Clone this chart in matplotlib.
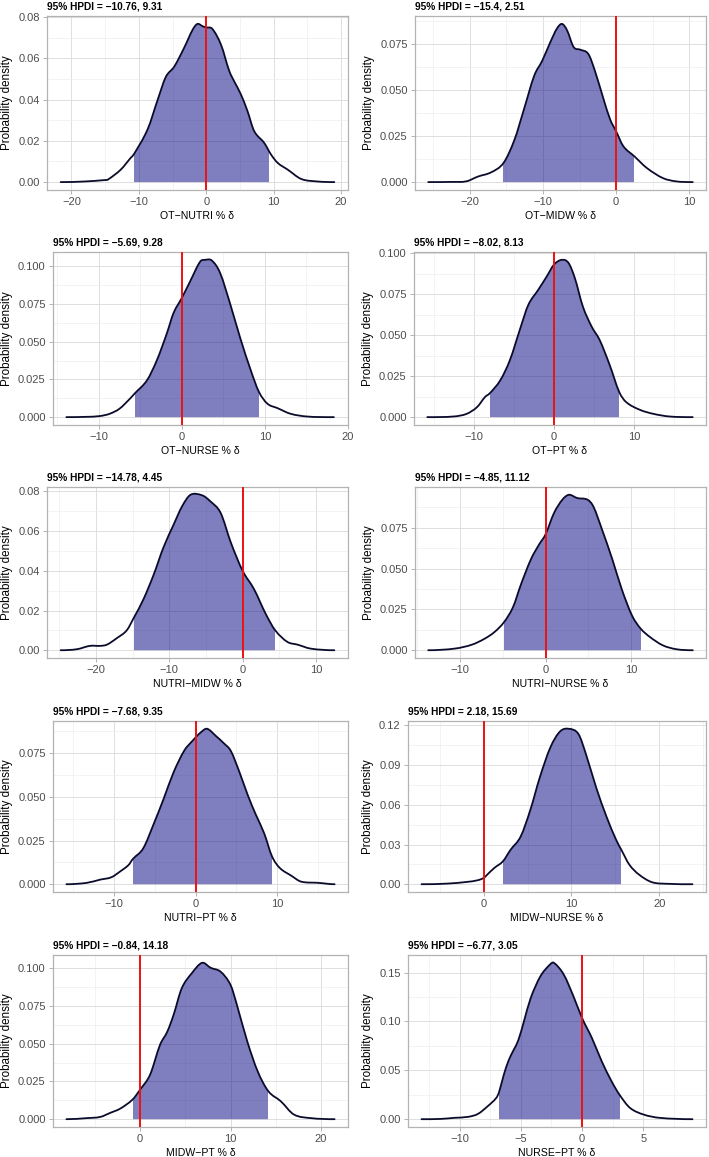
import numpy as np
import matplotlib
matplotlib.use("Agg")
import matplotlib.pyplot as plt
from matplotlib.patches import Rectangle, PathPatch
from matplotlib.path import Path

plt.rcParams['font.family'] = ['Liberation Sans', 'DejaVu Sans']

W, H = 709, 1157

# ---------------- data ----------------
xlabels = ["OT−NUTRI % δ", "OT−MIDW % δ", "OT−NURSE % δ", "OT−PT % δ",
           "NUTRI−MIDW % δ", "NUTRI−NURSE % δ", "NUTRI−PT % δ", "MIDW−NURSE % δ",
           "MIDW−PT % δ", "NURSE−PT % δ"]
hpdi_lo = [-10.76, -15.4, -5.69, -8.02, -14.78, -4.85, -7.68, 2.18, -0.84, -6.77]
hpdi_hi = [9.31, 2.51, 9.28, 8.13, 4.45, 11.12, 9.35, 15.69, 14.18, 3.05]

x1 = [-21.6, -18, -15, -14.6, -12.7, -11.2, -10.76, -8.7, -7.2, -6.0, -4.75, -3.3, -2.0, -1.3, -0.5, 0.0, 0.9,
      2.2, 3.4, 4.2, 5.1, 6.1, 7.1, 8.6, 9.6, 10.6, 12.1, 14.1, 16.5, 19.0]
y1 = [0, 0.0003, 0.001, 0.0012, 0.006, 0.0118, 0.0134, 0.0256, 0.040, 0.051, 0.056, 0.065, 0.074, 0.0767, 0.0755,
      0.075, 0.0743, 0.0665, 0.054, 0.0485, 0.0428, 0.0346, 0.0248, 0.019, 0.0134, 0.0093, 0.006, 0.0015, 0.0003, 0]

x2 = [-25.7, -22.5, -20.5, -18.9, -17.1, -15.4, -13.9, -12.6, -11.2, -10.1, -9.0, -8.1, -7.4, -6.7, -5.8, -4.9,
      -3.8, -2.9, -1.7, -0.8, 0.0, 1.0, 2.51, 4.2, 6.4, 8.2, 10.5]
y2 = [0, 0.0001, 0.0004, 0.003, 0.0053, 0.0104, 0.023, 0.0396, 0.0578, 0.066, 0.076, 0.0834, 0.086, 0.0825,
      0.0734, 0.072, 0.0697, 0.0606, 0.045, 0.034, 0.0277, 0.0195, 0.014, 0.0077, 0.0022, 0.0004, 0]

x3 = [-13.9, -11.5, -9.9, -8.7, -7.5, -6.25, -5.69, -4.2, -3.0, -1.8, -1.0, 0.0, 1.0, 2.2, 2.8, 3.6, 4.6, 5.85,
      7.05, 8.3, 9.28, 10.3, 11.5, 13.1, 15.1, 18.3]
y3 = [0, 0.0002, 0.0007, 0.0022, 0.0056, 0.0122, 0.0156, 0.0244, 0.0378, 0.0556, 0.069, 0.079, 0.09, 0.103,
      0.1042, 0.1038, 0.0956, 0.0744, 0.052, 0.031, 0.0167, 0.0089, 0.006, 0.0022, 0.0004, 0]

x4 = [-15.8, -12.5, -10.9, -9.6, -8.6, -8.02, -6.7, -5.5, -4.2, -3.2, -1.95, -0.9, 0.0, 0.95, 1.8, 2.6, 3.6,
      4.7, 5.7, 6.95, 8.13, 9.0, 10.7, 12.4, 14.4, 17.3]
y4 = [0, 0.0004, 0.002, 0.0061, 0.0123, 0.0145, 0.0225, 0.0348, 0.0543, 0.0686, 0.0779, 0.086, 0.0932, 0.0961,
      0.0943, 0.085, 0.0676, 0.0553, 0.0471, 0.0318, 0.0154, 0.0092, 0.0045, 0.002, 0.0004, 0]

x5 = [-24.8, -22.6, -20.8, -19.4, -18.5, -17.1, -15.8, -14.78, -13.5, -12.1, -10.8, -9.4, -8.25, -7.1, -5.5,
      -4.4, -3.0, -1.6, 0.0, 1.55, 3.15, 4.45, 6.1, 7.5, 9.3, 12.5]
y5 = [0, 0.0005, 0.0022, 0.0022, 0.0028, 0.0062, 0.01, 0.0167, 0.0258, 0.0383, 0.0517, 0.0633, 0.0725, 0.0783,
      0.078, 0.075, 0.0692, 0.0542, 0.04, 0.0308, 0.0183, 0.01, 0.0042, 0.0028, 0.0008, 0]

x6 = [-13.7, -10.6, -8.6, -7.1, -5.95, -4.85, -3.8, -2.85, -1.7, -0.73, 0.0, 1.0, 1.97, 2.74, 3.7, 4.9, 5.6,
      6.6, 7.8, 8.9, 10.1, 11.12, 12.2, 13.7, 15.3, 17.2]
y6 = [0, 0.001, 0.0034, 0.0071, 0.0112, 0.0172, 0.0264, 0.0406, 0.0558, 0.065, 0.071, 0.0842, 0.0923, 0.0953,
      0.0933, 0.0923, 0.088, 0.074, 0.0558, 0.0375, 0.0213, 0.0132, 0.0081, 0.003, 0.0006, 0]

x7 = [-15.8, -13.3, -11.7, -10.3, -9.2, -8.2, -7.68, -6.4, -5.1, -3.9, -2.7, -1.4, -0.4, 0.6, 1.4, 2.5, 3.5,
      4.3, 5.3, 6.4, 7.4, 8.4, 9.35, 10.3, 11.7, 12.9, 15.0, 17.0]
y7 = [0, 0.0008, 0.0026, 0.004, 0.0074, 0.011, 0.0144, 0.0206, 0.0348, 0.049, 0.064, 0.0764, 0.082, 0.0868,
      0.089, 0.0848, 0.0805, 0.0764, 0.065, 0.0508, 0.0395, 0.029, 0.0159, 0.0093, 0.0049, 0.0015, 0.0008, 0]

x8 = [-7.1, -4.1, -1.85, -0.7, 0.0, 0.4, 1.2, 2.18, 3.05, 4.2, 5.3, 6.4, 7.6, 8.7, 9.7, 10.8, 11.7, 12.8,
      14.0, 15.1, 15.69, 16.6, 17.7, 19.2, 21.1, 23.8]
y8 = [0, 0.0005, 0.0018, 0.003, 0.0048, 0.0073, 0.0123, 0.0173, 0.026, 0.036, 0.056, 0.081, 0.1035, 0.1155,
      0.1175, 0.1135, 0.0973, 0.0735, 0.051, 0.0335, 0.026, 0.0148, 0.0073, 0.0015, 0.0003, 0]

x9 = [-8.15, -5.9, -4.4, -3.3, -2.2, -0.84, 0.0, 1.1, 2.2, 3.0, 3.7, 4.6, 5.7, 6.85, 7.8, 8.9, 10.0, 10.7,
      11.85, 13.0, 14.18, 15.55, 17.0, 18.9, 21.5]
y9 = [0, 0.0007, 0.0015, 0.0042, 0.007, 0.013, 0.0196, 0.0295, 0.0493, 0.058, 0.0692, 0.0868, 0.0967, 0.1037,
      0.1004, 0.0978, 0.089, 0.0758, 0.0515, 0.0317, 0.0185, 0.0119, 0.0031, 0.0007, 0]

x10 = [-13.1, -11.5, -10.4, -9.3, -8.5, -7.7, -7.0, -6.77, -6.4, -6.0, -5.6, -5.2, -4.75, -4.2, -3.4, -2.6,
       -2.3, -1.5, -0.7, 0.0, 0.8, 1.6, 2.4, 3.05, 3.9, 5.0, 6.3, 9.0]
y10 = [0, 0.0003, 0.0014, 0.0024, 0.0054, 0.0133, 0.0218, 0.028, 0.045, 0.06, 0.0705, 0.081, 0.1, 0.1238,
       0.1463, 0.1585, 0.16, 0.148, 0.1255, 0.1034, 0.083, 0.0592, 0.0388, 0.025, 0.0116, 0.0048, 0.0014, 0]

xs = [x1, x2, x3, x4, x5, x6, x7, x8, x9, x10]
ys = [y1, y2, y3, y4, y5, y6, y7, y8, y9, y10]

xticks = [[-20, -10, 0, 10, 20], [-20, -10, 0, 10], [-10, 0, 10, 20], [-10, 0, 10], [-20, -10, 0, 10],
          [-10, 0, 10], [-10, 0, 10], [0, 10, 20], [0, 10, 20], [-10, -5, 0, 5]]
yticks = [[0, 0.02, 0.04, 0.06, 0.08], [0, 0.025, 0.05, 0.075], [0, 0.025, 0.05, 0.075, 0.1],
          [0, 0.025, 0.05, 0.075, 0.1], [0, 0.02, 0.04, 0.06, 0.08], [0, 0.025, 0.05, 0.075],
          [0, 0.025, 0.05, 0.075], [0, 0.03, 0.06, 0.09, 0.12], [0, 0.025, 0.05, 0.075, 0.1],
          [0, 0.05, 0.1, 0.15]]
ydec = [2, 3, 3, 3, 2, 3, 3, 2, 3, 2]

# ---------------- layout (pixels: left, top, right, bottom) ----------------
panels = [(47, 16, 348, 190), (415, 16, 706, 190),
          (53, 252, 348, 425), (414, 252, 706, 425),
          (47, 487, 348, 658), (415, 487, 706, 658),
          (53, 721, 348, 892), (408, 721, 706, 892),
          (53, 955, 348, 1127), (408, 955, 706, 1127)]

FILL = '#000080'
LINE = '#0b0b2b'
BORDER = '#b3b3b3'


def fmt(v):
    return f"{v:g}".replace('-', '−')


def minor_between(major, lo, hi):
    step = major[1] - major[0]
    cand = [major[0] - step / 2] + [m + step / 2 for m in major]
    return [c for c in cand if lo <= c <= hi]


def smooth_curve(x, y):
    """Cubic Hermite (as Bezier segments) through the read points."""
    n = len(x)
    m = np.zeros(n)
    for i in range(1, n - 1):
        m[i] = (y[i + 1] - y[i - 1]) / (x[i + 1] - x[i - 1])
    verts = [(x[0], y[0])]
    codes = [Path.MOVETO]
    for i in range(n - 1):
        h = x[i + 1] - x[i]
        verts += [(x[i] + h / 3, y[i] + m[i] * h / 3),
                  (x[i + 1] - h / 3, y[i + 1] - m[i + 1] * h / 3),
                  (x[i + 1], y[i + 1])]
        codes += [Path.CURVE4] * 3
    return verts, codes


fig = plt.figure(figsize=(W / 100, H / 100), dpi=100)

for i in range(10):
    l, t, r, b = panels[i]
    ax = fig.add_axes([l / W, 1 - b / H, (r - l) / W, (b - t) / H])
    x = np.array(xs[i], dtype=float)
    y = np.array(ys[i], dtype=float)
    xr = x.max() - x.min()
    xlo, xhi = x.min() - 0.05 * xr, x.max() + 0.05 * xr
    ylo, yhi = -0.05 * y.max(), 1.05 * y.max()

    verts, codes = smooth_curve(x, y)
    fverts = verts + [(x[-1], 0), (x[0], 0), (x[0], 0)]
    fcodes = codes + [Path.LINETO, Path.LINETO, Path.CLOSEPOLY]
    area = PathPatch(Path(fverts, fcodes), facecolor=FILL, alpha=0.5, lw=0, zorder=2)
    ax.add_patch(area)
    clip = Rectangle((hpdi_lo[i], -1), hpdi_hi[i] - hpdi_lo[i], 2, transform=ax.transData)
    area.set_clip_path(clip)
    line = PathPatch(Path(verts, codes), fill=False, edgecolor=LINE, lw=1.3, zorder=3,
                     joinstyle='round', capstyle='round')
    ax.add_patch(line)
    ax.axvline(0, color='#ee1111', lw=1.4, zorder=4)

    ax.set_xlim(xlo, xhi)
    ax.set_ylim(ylo, yhi)

    ax.set_xticks(xticks[i])
    ax.set_xticklabels([fmt(v) for v in xticks[i]])
    ax.set_yticks(yticks[i])
    ax.set_yticklabels([f"{v:.{ydec[i]}f}" for v in yticks[i]])
    ax.set_xticks(minor_between(xticks[i], xlo, xhi), minor=True)
    ax.set_yticks(minor_between(yticks[i], ylo, yhi), minor=True)

    ax.set_axisbelow(True)
    ax.grid(which='major', color='#dedede', lw=0.7)
    ax.grid(which='minor', color='#eeeeee', lw=0.5)
    ax.tick_params(which='major', length=2.75, width=0.7, color=BORDER, labelcolor='#4d4d4d',
                   labelsize=8, pad=2.5)
    ax.tick_params(which='minor', length=0)
    for s in ax.spines.values():
        s.set_color(BORDER)
        s.set_linewidth(0.9)

    ax.set_xlabel(xlabels[i], fontsize=7.6, labelpad=2.5)
    ax.set_ylabel('Probability density', fontsize=8.4, labelpad=3.5)
    ax.set_title(f"95% HPDI = {fmt(hpdi_lo[i])}, {fmt(hpdi_hi[i])}", loc='left',
                 fontsize=7.3, fontweight='bold', pad=5)

fig.savefig('out.png', dpi=100)
